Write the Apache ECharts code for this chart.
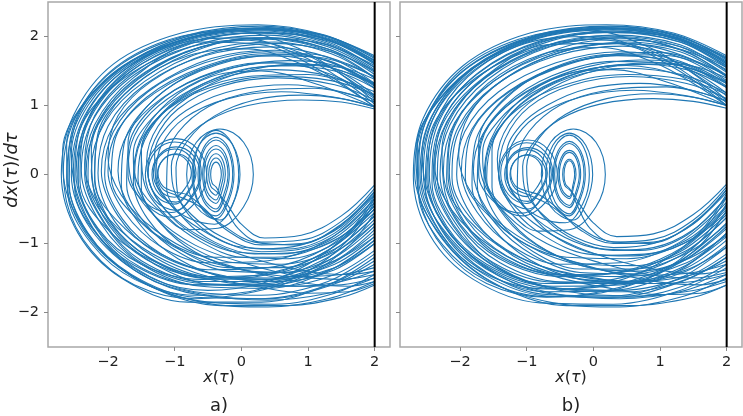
<!DOCTYPE html>
<html>
<head>
<meta charset="utf-8">
<script src="https://cdn.jsdelivr.net/npm/echarts@6/dist/echarts.min.js"></script>
<style>
  html, body { margin: 0; padding: 0; background: #fff; }
  #main { width: 743px; height: 416px; }
</style>
</head>
<body>
<div id="main"></div>
<script>
// tick positions shared by both panels
const xTicks = [-2, -1, 0, 1, 2];
const yTicks = [-2, -1, 0, 1, 2];
// the wall at x = 2
const wall = [[2, -2.5], [2, 2.5]];

// panel a) - large loops, each one leaves the wall at the bottom and comes back at the top
const loopsA = [
  [[2,-1.55],[1.3,-1.8],[0.4,-1.92],[-0.6,-1.85],[-1.6,-1.5],[-2.35,-0.8],[-2.67,0.05],[-2.45,0.9],[-1.8,1.6],[-0.8,2.02],[0.3,2.15],[1.3,2.0],[2,1.7]],
  [[2,-1.3],[1.3,-1.62],[0.4,-1.8],[-0.6,-1.75],[-1.5,-1.45],[-2.25,-0.8],[-2.55,0.0],[-2.35,0.85],[-1.7,1.55],[-0.7,1.98],[0.4,2.1],[1.35,1.95],[2,1.62]],
  [[2,-0.95],[1.3,-1.4],[0.4,-1.65],[-0.6,-1.62],[-1.5,-1.3],[-2.1,-0.72],[-2.4,0.05],[-2.22,0.8],[-1.6,1.45],[-0.6,1.9],[0.4,2.02],[1.3,1.85],[2,1.5]],
  [[2,-0.7],[1.3,-1.25],[0.4,-1.52],[-0.6,-1.5],[-1.4,-1.2],[-2.0,-0.65],[-2.25,0.05],[-2.05,0.75],[-1.45,1.35],[-0.5,1.8],[0.5,1.92],[1.35,1.75],[2,1.4]],
  [[2,-0.45],[1.3,-1.05],[0.4,-1.35],[-0.5,-1.38],[-1.3,-1.12],[-1.85,-0.6],[-2.1,0.05],[-1.92,0.7],[-1.35,1.25],[-0.45,1.68],[0.5,1.8],[1.35,1.62],[2,1.25]],
  [[2,-1.45],[1.4,-1.72],[0.5,-1.88],[-0.5,-1.85],[-1.5,-1.55],[-2.3,-0.9],[-2.62,-0.05],[-2.45,0.8],[-1.85,1.5],[-0.9,1.95],[0.2,2.12],[1.2,2.02],[2,1.72]],
  [[2,-1.15],[1.3,-1.55],[0.3,-1.75],[-0.7,-1.7],[-1.6,-1.35],[-2.2,-0.75],[-2.48,0.0],[-2.3,0.8],[-1.7,1.5],[-0.75,1.95],[0.35,2.08],[1.3,1.9],[2,1.55]],
  [[2,-0.8],[1.4,-1.25],[0.4,-1.55],[-0.6,-1.55],[-1.5,-1.25],[-2.05,-0.7],[-2.33,0.0],[-2.15,0.72],[-1.55,1.38],[-0.6,1.85],[0.45,1.98],[1.35,1.8],[2,1.45]],
  [[2,-0.35],[1.3,-0.95],[0.4,-1.25],[-0.5,-1.28],[-1.2,-1.05],[-1.75,-0.55],[-2.0,0.05],[-1.85,0.65],[-1.3,1.18],[-0.45,1.58],[0.5,1.72],[1.35,1.55],[2,1.15]],
  [[2,-1.6],[1.5,-1.78],[0.7,-1.9],[-0.3,-1.9],[-1.3,-1.65],[-2.15,-1.05],[-2.58,-0.15],[-2.5,0.7],[-1.95,1.45],[-1.0,1.92],[0.1,2.1],[1.1,2.05],[2,1.65]],
  [[2,-1.5],[1.5,-1.6],[0.8,-1.62],[-0.1,-1.5],[-1.0,-1.25],[-1.75,-0.78],[-2.2,-0.1],[-2.15,0.6],[-1.65,1.25],[-0.8,1.75],[0.2,1.98],[1.2,1.9],[2,1.58]],
  [[2,-1.4],[1.5,-1.55],[0.8,-1.62],[-0.1,-1.58],[-1.1,-1.35],[-1.95,-0.85],[-2.42,-0.1],[-2.35,0.65],[-1.85,1.35],[-0.95,1.85],[0.1,2.05],[1.1,2.0],[2,1.6]],
  [[2,-0.5],[1.4,-0.95],[0.5,-1.2],[-0.4,-1.2],[-1.15,-0.95],[-1.65,-0.5],[-1.85,0.05],[-1.7,0.6],[-1.2,1.1],[-0.4,1.48],[0.5,1.62],[1.35,1.45],[2,1.1]],
  [[2,-1.1],[1.4,-1.45],[0.6,-1.62],[-0.4,-1.6],[-1.3,-1.3],[-1.95,-0.75],[-2.3,-0.05],[-2.18,0.7],[-1.62,1.35],[-0.7,1.82],[0.35,1.98],[1.3,1.82],[2,1.48]],
  [[2,-0.65],[1.3,-1.2],[0.3,-1.55],[-0.7,-1.6],[-1.6,-1.32],[-2.25,-0.75],[-2.52,0.02],[-2.35,0.82],[-1.75,1.52],[-0.8,1.98],[0.3,2.12],[1.3,1.95],[2,1.62]],
  [[2,-1.35],[1.5,-1.45],[0.8,-1.48],[0.0,-1.38],[-0.8,-1.15],[-1.5,-0.7],[-1.95,-0.05],[-1.88,0.55],[-1.42,1.12],[-0.6,1.55],[0.35,1.75],[1.3,1.65],[2,1.3]],
  [[2,-1.2],[1.3,-1.6],[0.3,-1.85],[-0.8,-1.85],[-1.8,-1.5],[-2.45,-0.85],[-2.7,0.0],[-2.52,0.85],[-1.92,1.6],[-0.9,2.05],[0.25,2.17],[1.25,2.02],[2,1.68]],
  [[2,-0.9],[1.4,-1.3],[0.5,-1.5],[-0.5,-1.48],[-1.3,-1.2],[-1.9,-0.68],[-2.15,0.02],[-2.0,0.7],[-1.45,1.3],[-0.55,1.72],[0.45,1.85],[1.35,1.68],[2,1.32]],
  [[2,-0.55],[1.3,-1.1],[0.4,-1.45],[-0.6,-1.52],[-1.5,-1.3],[-2.15,-0.78],[-2.45,-0.05],[-2.3,0.75],[-1.72,1.45],[-0.78,1.92],[0.3,2.05],[1.3,1.88],[2,1.52]],
  [[2,-1.0],[1.4,-1.35],[0.5,-1.52],[-0.4,-1.45],[-1.2,-1.15],[-1.78,-0.65],[-2.05,0.0],[-1.92,0.62],[-1.4,1.2],[-0.55,1.62],[0.4,1.78],[1.3,1.65],[2,1.28]],
  [[2,-0.95],[1.4,-1.35],[0.4,-1.6],[-0.6,-1.58],[-1.5,-1.28],[-2.05,-0.72],[-2.35,0.0],[-2.2,0.72],[-1.62,1.4],[-0.6,1.92],[0.3,1.88],[1.2,1.5],[2,0.98]],
  [[2,-1.5],[1.3,-1.72],[0.4,-1.82],[-0.5,-1.75],[-1.4,-1.5],[-2.1,-0.95],[-2.5,-0.2],[-2.45,0.55],[-1.95,1.25],[-1.0,1.78],[0.0,1.95],[1.0,1.72],[2,1.12]],
  // loops whose top peaks further left and come back low
  [[2,-0.85],[1.3,-1.32],[0.4,-1.58],[-0.6,-1.6],[-1.5,-1.35],[-2.15,-0.8],[-2.45,-0.05],[-2.35,0.7],[-1.85,1.4],[-1.0,1.88],[0.0,1.98],[0.9,1.72],[1.5,1.38],[2,1.02]],
  [[2,-1.25],[1.3,-1.6],[0.3,-1.8],[-0.7,-1.78],[-1.65,-1.45],[-2.3,-0.85],[-2.6,-0.05],[-2.5,0.75],[-1.98,1.48],[-1.1,1.95],[-0.1,2.08],[0.8,1.85],[1.5,1.45],[2,1.05]],
  [[2,-0.6],[1.3,-1.15],[0.4,-1.45],[-0.5,-1.48],[-1.35,-1.22],[-1.95,-0.7],[-2.2,0.0],[-2.1,0.68],[-1.6,1.3],[-0.8,1.72],[0.1,1.82],[0.9,1.6],[1.5,1.3],[2,0.98]],
  // fast departures that slow down going left
  [[2,-1.55],[1.6,-1.62],[1.0,-1.58],[0.2,-1.42],[-0.6,-1.18],[-1.3,-0.8],[-1.8,-0.3],[-2.0,0.25],[-1.85,0.85],[-1.35,1.35],[-0.5,1.75],[0.5,1.9],[1.35,1.78],[2,1.5]],
  [[2,-1.45],[1.5,-1.52],[0.9,-1.48],[0.1,-1.3],[-0.7,-1.02],[-1.3,-0.6],[-1.65,-0.1],[-1.7,0.45],[-1.4,1.0],[-0.8,1.42],[0.1,1.7],[1.0,1.75],[1.6,1.6],[2,1.4]],
  [[2,-1.58],[1.6,-1.7],[1.0,-1.72],[0.2,-1.62],[-0.7,-1.42],[-1.5,-1.05],[-2.1,-0.5],[-2.35,0.15],[-2.2,0.85],[-1.65,1.45],[-0.75,1.9],[0.3,2.06],[1.25,1.95],[2,1.66]],
  [[2,-1.4],[1.6,-1.45],[1.1,-1.42],[0.4,-1.28],[-0.3,-1.05],[-0.9,-0.72],[-1.3,-0.3],[-1.42,0.2],[-1.25,0.7],[-0.8,1.12],[-0.1,1.45],[0.8,1.6],[1.5,1.55],[2,1.38]],
  // slow departures that speed up going left
  [[2,-0.3],[1.6,-0.85],[1.0,-1.3],[0.3,-1.58],[-0.5,-1.68],[-1.3,-1.52],[-2.0,-1.05],[-2.42,-0.4],[-2.55,0.3],[-2.3,1.0],[-1.7,1.58],[-0.75,1.98],[0.3,2.1],[1.3,1.92],[2,1.55]],
  [[2,-0.4],[1.6,-0.95],[1.0,-1.4],[0.2,-1.68],[-0.7,-1.75],[-1.6,-1.52],[-2.25,-1.0],[-2.6,-0.3],[-2.62,0.45],[-2.25,1.15],[-1.55,1.7],[-0.6,2.05],[0.45,2.12],[1.4,1.92],[2,1.6]],
  [[2,-0.55],[1.6,-1.05],[1.0,-1.45],[0.2,-1.7],[-0.7,-1.8],[-1.6,-1.6],[-2.25,-1.1],[-2.62,-0.4],[-2.68,0.35],[-2.35,1.05],[-1.65,1.65],[-0.7,2.03],[0.4,2.13],[1.35,1.96],[2,1.64]],
  [[2,-0.35],[1.6,-0.88],[1.0,-1.25],[0.3,-1.45],[-0.5,-1.5],[-1.25,-1.32],[-1.85,-0.9],[-2.2,-0.3],[-2.25,0.35],[-2.0,0.98],[-1.45,1.48],[-0.6,1.85],[0.4,1.96],[1.35,1.78],[2,1.4]],
  // medium loops through the centre-left
  [[2,-0.75],[1.4,-1.2],[0.6,-1.42],[-0.2,-1.4],[-0.9,-1.15],[-1.45,-0.7],[-1.72,-0.15],[-1.68,0.45],[-1.3,1.0],[-0.6,1.42],[0.3,1.62],[1.2,1.58],[2,1.3]],
  [[2,-1.0],[1.4,-1.38],[0.6,-1.55],[-0.2,-1.5],[-0.95,-1.22],[-1.5,-0.75],[-1.8,-0.15],[-1.75,0.48],[-1.35,1.05],[-0.65,1.5],[0.25,1.72],[1.15,1.7],[2,1.42]],
  [[2,-0.9],[1.4,-1.25],[0.7,-1.42],[0.0,-1.38],[-0.7,-1.12],[-1.2,-0.72],[-1.5,-0.2],[-1.5,0.35],[-1.2,0.88],[-0.6,1.3],[0.2,1.55],[1.1,1.58],[2,1.32]],
  [[2,-0.7],[1.4,-1.12],[0.6,-1.35],[-0.2,-1.35],[-0.9,-1.1],[-1.4,-0.65],[-1.62,-0.1],[-1.52,0.5],[-1.1,1.05],[-0.45,1.42],[0.3,1.5],[1.1,1.32],[2,0.98]],
  // loops around the small hole near x = -1
  [[2,-0.3],[1.4,-0.85],[0.7,-1.08],[0.0,-1.05],[-0.6,-0.8],[-1.05,-0.45],[-1.28,0.0],[-1.2,0.42],[-0.85,0.82],[-0.2,1.1],[0.6,1.2],[1.4,1.12],[2,0.98]],
  [[2,-0.4],[1.4,-0.92],[0.6,-1.15],[-0.1,-1.12],[-0.7,-0.88],[-1.15,-0.5],[-1.4,0.02],[-1.3,0.5],[-0.95,0.95],[-0.3,1.28],[0.55,1.4],[1.4,1.3],[2,1.08]],
  [[2,-0.6],[1.4,-1.08],[0.6,-1.3],[-0.1,-1.28],[-0.8,-1.02],[-1.3,-0.6],[-1.55,-0.05],[-1.45,0.5],[-1.05,1.0],[-0.35,1.38],[0.5,1.52],[1.35,1.42],[2,1.15]],
  [[2,-0.25],[1.5,-0.75],[0.9,-1.02],[0.3,-1.08],[-0.3,-0.9],[-0.75,-0.58],[-1.0,-0.25],[-1.05,0.12],[-0.9,0.45],[-0.5,0.78],[0.1,1.0],[0.9,1.08],[1.5,1.05],[2,0.95]],
  [[2,-0.5],[1.4,-1.0],[0.7,-1.22],[0.0,-1.2],[-0.6,-0.98],[-1.1,-0.62],[-1.45,-0.15],[-1.5,0.35],[-1.25,0.82],[-0.7,1.2],[0.1,1.42],[1.0,1.45],[2,1.2]],
  [[2,-0.35],[1.5,-0.82],[0.9,-1.08],[0.3,-1.12],[-0.25,-0.98],[-0.7,-0.68],[-0.95,-0.3],[-0.98,0.1],[-0.8,0.5],[-0.4,0.85],[0.2,1.08],[0.9,1.15],[1.5,1.1],[2,0.98]],
  [[2,-0.45],[1.5,-0.9],[0.9,-1.12],[0.2,-1.15],[-0.4,-0.98],[-0.85,-0.65],[-1.12,-0.2],[-1.1,0.3],[-0.85,0.72],[-0.35,1.05],[0.35,1.22],[1.1,1.25],[2,1.05]]
];

// panel a) - trajectories that spiral near x = -0.4 and x = -1 before escaping
const spiralsA = [
  [[2,-0.2],[1.5,-0.68],[0.9,-0.95],[0.3,-0.98],[-0.05,-0.78],[-0.25,-0.45],[-0.34,-0.25],
   [-0.38,-0.18],[-0.437,-0.127],[-0.46,0],[-0.437,0.127],[-0.38,0.18],[-0.323,0.127],[-0.3,0],[-0.323,-0.127],
   [-0.38,-0.3],[-0.48,-0.21],[-0.52,0],[-0.48,0.21],[-0.38,0.3],[-0.28,0.21],[-0.24,0],[-0.28,-0.21],
   [-0.38,-0.42],[-0.52,-0.3],[-0.58,0],[-0.52,0.3],[-0.38,0.42],[-0.24,0.3],[-0.18,0],[-0.24,-0.3],
   [-0.38,-0.54],[-0.57,-0.38],[-0.65,0],[-0.57,0.38],[-0.38,0.54],[-0.19,0.38],[-0.11,0],[-0.19,-0.38],
   [-0.38,-0.64],[-0.62,-0.45],[-0.72,0],[-0.62,0.45],[-0.38,0.64],[-0.14,0.45],[-0.04,0],[-0.14,-0.45],
   [-0.4,-0.72],[-0.75,-0.65],[-1.05,-0.45],[-1.28,-0.1],[-1.3,0.3],[-1.1,0.7],[-0.7,1.0],[-0.1,1.22],[0.7,1.3],[1.4,1.22],[2,1.05]],
  [[2,-0.28],[1.4,-0.8],[0.8,-1.02],[0.2,-0.98],[-0.3,-0.72],[-0.65,-0.45],
   [-0.98,-0.3],[-1.18,-0.21],[-1.26,0],[-1.18,0.21],[-0.98,0.3],[-0.78,0.21],[-0.7,0],[-0.78,-0.21],
   [-0.98,-0.4],[-1.235,-0.28],[-1.34,0],[-1.235,0.28],[-0.98,0.4],[-0.725,0.28],[-0.62,0],[-0.725,-0.28],
   [-0.98,-0.52],[-1.3,-0.37],[-1.44,0],[-1.3,0.37],[-0.98,0.52],[-0.66,0.37],[-0.52,0],[-0.66,-0.37],
   [-1.05,-0.62],[-1.4,-0.45],[-1.6,-0.05],[-1.5,0.5],[-1.1,0.95],[-0.4,1.28],[0.5,1.42],[1.35,1.36],[2,1.15]],
  [[2,-0.15],[1.5,-0.6],[0.9,-0.88],[0.35,-0.92],[0.0,-0.72],[-0.2,-0.45],[-0.32,-0.3],
   [-0.38,-0.24],[-0.458,-0.17],[-0.49,0],[-0.458,0.17],[-0.38,0.24],[-0.302,0.17],[-0.27,0],[-0.302,-0.17],
   [-0.38,-0.37],[-0.507,-0.26],[-0.56,0],[-0.507,0.26],[-0.38,0.37],[-0.253,0.26],[-0.2,0],[-0.253,-0.26],
   [-0.38,-0.5],[-0.557,-0.354],[-0.63,0],[-0.557,0.354],[-0.38,0.5],[-0.203,0.354],[-0.13,0],[-0.203,-0.354],
   [-0.38,-0.6],[-0.635,-0.424],[-0.74,0],[-0.635,0.424],[-0.38,0.6],[-0.125,0.424],[-0.02,0],[-0.125,-0.424],
   [-0.32,-0.66],[-0.674,-0.467],[-0.82,0],[-0.674,0.467],[-0.32,0.66],[0.034,0.467],[0.18,0],[0.034,-0.467],
   [-0.35,-0.78],[-0.8,-0.8],[-1.2,-0.55],[-1.55,-0.15],[-1.62,0.3],[-1.4,0.75],[-0.9,1.15],[-0.2,1.45],[0.6,1.58],[1.4,1.5],[2,1.25]],
  [[2,-0.24],[1.5,-0.72],[0.9,-1.0],[0.3,-1.02],[-0.2,-0.82],[-0.55,-0.5],[-0.8,-0.3],
   [-1.0,-0.25],[-1.177,-0.17],[-1.25,0.02],[-1.177,0.21],[-1.0,0.29],[-0.823,0.21],[-0.75,0.02],[-0.823,-0.17],
   [-1.0,-0.33],[-1.226,-0.227],[-1.32,0.02],[-1.226,0.267],[-1.0,0.37],[-0.774,0.267],[-0.68,0.02],[-0.774,-0.227],
   [-1.0,-0.43],[-1.283,-0.3],[-1.4,0.02],[-1.283,0.34],[-1.0,0.47],[-0.717,0.34],[-0.6,0.02],[-0.717,-0.3],
   [-1.05,-0.55],[-1.45,-0.4],[-1.7,0.0],[-1.65,0.45],[-1.35,0.9],[-0.8,1.28],[-0.1,1.55],[0.7,1.65],[1.4,1.58],[2,1.32]]
];

// panel b)
const loopsB = [
  [[2,-1.5],[1.3,-1.78],[0.4,-1.92],[-0.6,-1.86],[-1.6,-1.52],[-2.35,-0.82],[-2.68,0.02],[-2.48,0.88],[-1.85,1.58],[-0.85,2.02],[0.25,2.15],[1.25,2.02],[2,1.68]],
  [[2,-1.05],[1.3,-1.5],[0.3,-1.76],[-0.7,-1.74],[-1.6,-1.42],[-2.28,-0.78],[-2.58,0.0],[-2.4,0.82],[-1.78,1.52],[-0.8,1.98],[0.3,2.1],[1.3,1.95],[2,1.6]],
  [[2,-1.3],[1.4,-1.6],[0.5,-1.78],[-0.5,-1.75],[-1.45,-1.45],[-2.15,-0.85],[-2.5,-0.05],[-2.35,0.75],[-1.75,1.45],[-0.8,1.92],[0.3,2.06],[1.3,1.92],[2,1.55]],
  [[2,-0.75],[1.3,-1.28],[0.4,-1.56],[-0.6,-1.56],[-1.5,-1.28],[-2.1,-0.72],[-2.38,0.02],[-2.2,0.76],[-1.6,1.42],[-0.65,1.88],[0.4,2.0],[1.3,1.85],[2,1.48]],
  [[2,-0.5],[1.3,-1.1],[0.4,-1.42],[-0.5,-1.45],[-1.4,-1.2],[-1.98,-0.65],[-2.25,0.05],[-2.08,0.75],[-1.5,1.35],[-0.55,1.78],[0.45,1.9],[1.35,1.72],[2,1.36]],
  [[2,-1.6],[1.5,-1.78],[0.6,-1.9],[-0.4,-1.9],[-1.4,-1.62],[-2.2,-1.0],[-2.64,-0.1],[-2.52,0.75],[-1.95,1.5],[-0.95,1.98],[0.15,2.13],[1.15,2.04],[2,1.7]],
  [[2,-1.25],[1.5,-1.45],[0.7,-1.55],[-0.2,-1.48],[-1.1,-1.2],[-1.78,-0.7],[-2.12,-0.05],[-2.02,0.62],[-1.52,1.25],[-0.65,1.72],[0.35,1.9],[1.3,1.78],[2,1.42]],
  [[2,-0.95],[1.4,-1.35],[0.5,-1.58],[-0.5,-1.56],[-1.4,-1.28],[-2.02,-0.72],[-2.3,0.0],[-2.15,0.72],[-1.58,1.38],[-0.65,1.85],[0.4,1.98],[1.32,1.8],[2,1.44]],
  [[2,-0.4],[1.3,-0.98],[0.4,-1.28],[-0.5,-1.3],[-1.2,-1.05],[-1.74,-0.55],[-1.98,0.05],[-1.82,0.66],[-1.28,1.2],[-0.42,1.6],[0.5,1.73],[1.35,1.56],[2,1.18]],
  [[2,-1.35],[1.3,-1.68],[0.3,-1.88],[-0.8,-1.86],[-1.8,-1.52],[-2.45,-0.88],[-2.7,-0.02],[-2.55,0.82],[-1.95,1.58],[-0.95,2.05],[0.2,2.17],[1.2,2.05],[2,1.72]],
  [[2,-1.55],[1.5,-1.68],[0.7,-1.76],[-0.2,-1.72],[-1.2,-1.48],[-2.0,-0.92],[-2.42,-0.12],[-2.32,0.65],[-1.8,1.35],[-0.9,1.85],[0.15,2.06],[1.15,2.0],[2,1.62]],
  [[2,-1.45],[1.5,-1.55],[0.8,-1.58],[-0.1,-1.48],[-1.0,-1.25],[-1.75,-0.78],[-2.2,-0.1],[-2.14,0.58],[-1.66,1.22],[-0.8,1.72],[0.2,1.95],[1.2,1.88],[2,1.55]],
  [[2,-0.55],[1.4,-0.98],[0.5,-1.22],[-0.4,-1.2],[-1.12,-0.95],[-1.6,-0.5],[-1.8,0.05],[-1.66,0.58],[-1.18,1.08],[-0.4,1.45],[0.5,1.58],[1.35,1.42],[2,1.08]],
  [[2,-0.62],[1.3,-1.18],[0.3,-1.52],[-0.7,-1.58],[-1.6,-1.3],[-2.2,-0.75],[-2.46,0.0],[-2.3,0.8],[-1.72,1.48],[-0.78,1.94],[0.3,2.08],[1.3,1.92],[2,1.58]],
  [[2,-1.3],[1.5,-1.42],[0.8,-1.46],[0.0,-1.36],[-0.8,-1.12],[-1.48,-0.68],[-1.92,-0.05],[-1.85,0.55],[-1.4,1.1],[-0.6,1.52],[0.35,1.72],[1.3,1.62],[2,1.26]],
  [[2,-0.85],[1.3,-1.38],[0.3,-1.68],[-0.7,-1.7],[-1.65,-1.4],[-2.28,-0.8],[-2.55,0.02],[-2.38,0.86],[-1.78,1.55],[-0.82,2.0],[0.28,2.12],[1.28,1.98],[2,1.64]],
  [[2,-1.05],[1.4,-1.38],[0.5,-1.55],[-0.4,-1.48],[-1.2,-1.18],[-1.78,-0.66],[-2.05,0.0],[-1.93,0.62],[-1.42,1.2],[-0.56,1.62],[0.4,1.78],[1.3,1.64],[2,1.28]],
  [[2,-1.2],[1.4,-1.52],[0.5,-1.7],[-0.5,-1.66],[-1.4,-1.36],[-2.0,-0.8],[-2.34,-0.05],[-2.22,0.7],[-1.66,1.38],[-0.74,1.86],[0.32,2.02],[1.3,1.88],[2,1.5]],
  [[2,-0.7],[1.3,-1.25],[0.3,-1.6],[-0.7,-1.66],[-1.7,-1.4],[-2.32,-0.8],[-2.6,0.0],[-2.42,0.84],[-1.82,1.54],[-0.85,2.0],[0.25,2.12],[1.25,1.98],[2,1.6]],
  [[2,-0.85],[1.4,-1.28],[0.5,-1.48],[-0.5,-1.45],[-1.3,-1.18],[-1.9,-0.66],[-2.16,0.02],[-2.02,0.7],[-1.46,1.3],[-0.56,1.72],[0.44,1.86],[1.35,1.68],[2,1.34]],
  [[2,-1.15],[1.4,-1.48],[0.4,-1.68],[-0.6,-1.64],[-1.5,-1.32],[-2.1,-0.75],[-2.4,0.0],[-2.25,0.75],[-1.65,1.4],[-0.7,1.88],[0.3,1.9],[1.2,1.55],[2,1.0]],
  [[2,-1.45],[1.3,-1.7],[0.4,-1.8],[-0.5,-1.74],[-1.4,-1.48],[-2.12,-0.95],[-2.52,-0.2],[-2.46,0.55],[-1.96,1.25],[-1.02,1.78],[0.0,1.96],[1.0,1.74],[2,1.14]],
  [[2,-0.9],[1.3,-1.36],[0.4,-1.6],[-0.6,-1.62],[-1.5,-1.38],[-2.18,-0.82],[-2.48,-0.05],[-2.38,0.72],[-1.88,1.42],[-1.02,1.9],[-0.02,2.0],[0.9,1.75],[1.5,1.4],[2,1.04]],
  [[2,-1.2],[1.3,-1.56],[0.3,-1.78],[-0.7,-1.76],[-1.65,-1.44],[-2.3,-0.84],[-2.62,-0.05],[-2.52,0.76],[-2.0,1.5],[-1.12,1.96],[-0.12,2.1],[0.8,1.86],[1.5,1.46],[2,1.08]],
  [[2,-0.58],[1.3,-1.12],[0.4,-1.42],[-0.5,-1.46],[-1.35,-1.2],[-1.94,-0.68],[-2.18,0.02],[-2.08,0.7],[-1.58,1.32],[-0.78,1.74],[0.12,1.84],[0.92,1.62],[1.5,1.32],[2,1.0]],
  [[2,-1.52],[1.6,-1.6],[1.0,-1.56],[0.2,-1.4],[-0.6,-1.16],[-1.3,-0.78],[-1.82,-0.28],[-2.02,0.27],[-1.86,0.87],[-1.36,1.37],[-0.5,1.77],[0.5,1.92],[1.35,1.8],[2,1.52]],
  [[2,-1.42],[1.5,-1.5],[0.9,-1.46],[0.1,-1.28],[-0.7,-1.0],[-1.3,-0.58],[-1.66,-0.08],[-1.72,0.47],[-1.42,1.02],[-0.82,1.44],[0.1,1.72],[1.0,1.77],[1.6,1.62],[2,1.42]],
  [[2,-1.6],[1.6,-1.72],[1.0,-1.74],[0.2,-1.64],[-0.7,-1.44],[-1.5,-1.07],[-2.12,-0.52],[-2.38,0.14],[-2.22,0.86],[-1.66,1.46],[-0.76,1.92],[0.3,2.08],[1.25,1.97],[2,1.68]],
  [[2,-1.38],[1.6,-1.44],[1.1,-1.4],[0.4,-1.26],[-0.3,-1.03],[-0.9,-0.7],[-1.32,-0.28],[-1.44,0.22],[-1.27,0.72],[-0.82,1.14],[-0.1,1.47],[0.8,1.62],[1.5,1.57],[2,1.4]],
  [[2,-0.28],[1.6,-0.83],[1.0,-1.28],[0.3,-1.56],[-0.5,-1.66],[-1.3,-1.5],[-2.0,-1.03],[-2.44,-0.38],[-2.57,0.32],[-2.32,1.02],[-1.72,1.6],[-0.76,2.0],[0.3,2.11],[1.3,1.94],[2,1.57]],
  [[2,-0.42],[1.6,-0.97],[1.0,-1.42],[0.2,-1.7],[-0.7,-1.77],[-1.6,-1.54],[-2.26,-1.02],[-2.62,-0.32],[-2.64,0.43],[-2.27,1.13],[-1.57,1.68],[-0.62,2.04],[0.44,2.12],[1.4,1.93],[2,1.62]],
  [[2,-0.52],[1.6,-1.03],[1.0,-1.43],[0.2,-1.68],[-0.7,-1.78],[-1.6,-1.58],[-2.24,-1.08],[-2.6,-0.38],[-2.66,0.37],[-2.33,1.07],[-1.63,1.67],[-0.68,2.05],[0.42,2.14],[1.36,1.97],[2,1.66]],
  [[2,-0.33],[1.6,-0.86],[1.0,-1.23],[0.3,-1.43],[-0.5,-1.48],[-1.25,-1.3],[-1.86,-0.88],[-2.22,-0.28],[-2.27,0.37],[-2.02,1.0],[-1.47,1.5],[-0.62,1.87],[0.4,1.98],[1.35,1.8],[2,1.42]],
  [[2,-0.78],[1.4,-1.22],[0.6,-1.44],[-0.2,-1.42],[-0.9,-1.17],[-1.46,-0.72],[-1.74,-0.16],[-1.7,0.44],[-1.32,1.0],[-0.62,1.43],[0.3,1.64],[1.2,1.6],[2,1.32]],
  [[2,-1.02],[1.4,-1.4],[0.6,-1.57],[-0.2,-1.52],[-0.95,-1.24],[-1.52,-0.76],[-1.82,-0.16],[-1.77,0.47],[-1.37,1.05],[-0.67,1.52],[0.25,1.74],[1.15,1.72],[2,1.44]],
  [[2,-0.88],[1.4,-1.23],[0.7,-1.4],[0.0,-1.36],[-0.7,-1.1],[-1.22,-0.7],[-1.52,-0.18],[-1.52,0.36],[-1.22,0.9],[-0.62,1.32],[0.2,1.57],[1.1,1.6],[2,1.34]],
  [[2,-0.72],[1.4,-1.14],[0.6,-1.37],[-0.2,-1.37],[-0.9,-1.12],[-1.42,-0.66],[-1.64,-0.1],[-1.54,0.5],[-1.12,1.06],[-0.46,1.44],[0.3,1.52],[1.1,1.34],[2,1.0]],
  [[2,-0.32],[1.4,-0.88],[0.7,-1.1],[0.0,-1.06],[-0.6,-0.82],[-1.05,-0.46],[-1.3,0.0],[-1.22,0.44],[-0.86,0.84],[-0.2,1.12],[0.6,1.22],[1.4,1.14],[2,1.0]],
  [[2,-0.45],[1.4,-0.95],[0.6,-1.18],[-0.1,-1.15],[-0.72,-0.9],[-1.18,-0.52],[-1.42,0.0],[-1.32,0.52],[-0.96,0.98],[-0.3,1.3],[0.55,1.42],[1.4,1.32],[2,1.1]],
  [[2,-0.62],[1.4,-1.1],[0.6,-1.32],[-0.1,-1.3],[-0.82,-1.04],[-1.32,-0.62],[-1.6,-0.05],[-1.5,0.5],[-1.08,1.02],[-0.38,1.4],[0.5,1.54],[1.35,1.44],[2,1.18]],
  [[2,-0.22],[1.5,-0.72],[0.9,-1.0],[0.3,-1.06],[-0.3,-0.9],[-0.76,-0.58],[-1.02,-0.24],[-1.06,0.12],[-0.9,0.46],[-0.5,0.8],[0.1,1.02],[0.9,1.1],[1.5,1.06],[2,0.96]],
  [[2,-0.33],[1.5,-0.8],[0.9,-1.06],[0.3,-1.1],[-0.25,-0.96],[-0.7,-0.66],[-0.96,-0.28],[-1.0,0.12],[-0.82,0.52],[-0.42,0.87],[0.2,1.1],[0.9,1.17],[1.5,1.12],[2,1.0]],
  [[2,-0.47],[1.5,-0.92],[0.9,-1.14],[0.2,-1.17],[-0.4,-1.0],[-0.86,-0.66],[-1.14,-0.2],[-1.12,0.3],[-0.86,0.74],[-0.36,1.07],[0.35,1.24],[1.1,1.27],[2,1.07]]
];

const spiralsB = [
  [[2,-0.18],[1.5,-0.66],[0.9,-0.94],[0.3,-0.98],[-0.05,-0.78],[-0.24,-0.45],[-0.32,-0.26],
   [-0.36,-0.2],[-0.417,-0.14],[-0.44,0],[-0.417,0.14],[-0.36,0.2],[-0.303,0.14],[-0.28,0],[-0.303,-0.14],
   [-0.36,-0.32],[-0.466,-0.226],[-0.51,0],[-0.466,0.226],[-0.36,0.32],[-0.254,0.226],[-0.21,0],[-0.254,-0.226],
   [-0.36,-0.45],[-0.516,-0.318],[-0.58,0],[-0.516,0.318],[-0.36,0.45],[-0.204,0.318],[-0.14,0],[-0.204,-0.318],
   [-0.36,-0.57],[-0.572,-0.403],[-0.66,0],[-0.572,0.403],[-0.36,0.57],[-0.148,0.403],[-0.06,0],[-0.148,-0.403],
   [-0.42,-0.7],[-0.76,-0.64],[-1.06,-0.44],[-1.28,-0.1],[-1.3,0.3],[-1.1,0.7],[-0.7,1.0],[-0.1,1.24],[0.7,1.32],[1.4,1.24],[2,1.06]],
  [[2,-0.26],[1.4,-0.78],[0.8,-1.0],[0.2,-0.96],[-0.3,-0.7],[-0.66,-0.44],
   [-0.98,-0.29],[-1.17,-0.205],[-1.25,0],[-1.17,0.205],[-0.98,0.29],[-0.79,0.205],[-0.71,0],[-0.79,-0.205],
   [-0.98,-0.39],[-1.227,-0.276],[-1.33,0],[-1.227,0.276],[-0.98,0.39],[-0.733,0.276],[-0.63,0],[-0.733,-0.276],
   [-0.98,-0.5],[-1.29,-0.354],[-1.42,0],[-1.29,0.354],[-0.98,0.5],[-0.67,0.354],[-0.54,0],[-0.67,-0.354],
   [-1.06,-0.6],[-1.42,-0.44],[-1.62,-0.04],[-1.52,0.5],[-1.12,0.96],[-0.42,1.3],[0.5,1.45],[1.35,1.38],[2,1.16]],
  [[2,-0.14],[1.5,-0.58],[0.9,-0.86],[0.35,-0.9],[0.0,-0.7],[-0.2,-0.44],[-0.3,-0.28],
   [-0.36,-0.22],[-0.43,-0.156],[-0.46,0],[-0.43,0.156],[-0.36,0.22],[-0.29,0.156],[-0.26,0],[-0.29,-0.156],
   [-0.36,-0.35],[-0.48,-0.247],[-0.53,0],[-0.48,0.247],[-0.36,0.35],[-0.24,0.247],[-0.19,0],[-0.24,-0.247],
   [-0.36,-0.48],[-0.53,-0.34],[-0.6,0],[-0.53,0.34],[-0.36,0.48],[-0.19,0.34],[-0.12,0],[-0.19,-0.34],
   [-0.36,-0.6],[-0.607,-0.424],[-0.71,0],[-0.607,0.424],[-0.36,0.6],[-0.113,0.424],[-0.01,0],[-0.113,-0.424],
   [-0.3,-0.66],[-0.64,-0.467],[-0.78,0],[-0.64,0.467],[-0.3,0.66],[0.04,0.467],[0.18,0],[0.04,-0.467],
   [-0.36,-0.8],[-0.82,-0.82],[-1.24,-0.56],[-1.6,-0.14],[-1.66,0.32],[-1.42,0.78],[-0.92,1.18],[-0.2,1.48],[0.6,1.6],[1.4,1.52],[2,1.26]],
  [[2,-0.22],[1.5,-0.7],[0.9,-0.98],[0.3,-1.0],[-0.2,-0.8],[-0.55,-0.48],[-0.8,-0.3],
   [-1.0,-0.24],[-1.17,-0.164],[-1.24,0.02],[-1.17,0.204],[-1.0,0.28],[-0.83,0.204],[-0.76,0.02],[-0.83,-0.164],
   [-1.0,-0.32],[-1.22,-0.22],[-1.31,0.02],[-1.22,0.26],[-1.0,0.36],[-0.78,0.26],[-0.69,0.02],[-0.78,-0.22],
   [-1.0,-0.42],[-1.276,-0.29],[-1.39,0.02],[-1.276,0.33],[-1.0,0.46],[-0.724,0.33],[-0.61,0.02],[-0.724,-0.29],
   [-1.06,-0.56],[-1.46,-0.42],[-1.72,0.0],[-1.68,0.46],[-1.38,0.92],[-0.82,1.3],[-0.1,1.56],[0.7,1.66],[1.4,1.6],[2,1.32]]
];

const blue = '#1f77b4';
const minus = v => String(v).replace('-', '\u2212');

function trajectory(list, idx, smooth) {
  return list.map(pts => ({
    type: 'line',
    xAxisIndex: idx,
    yAxisIndex: idx,
    data: pts,
    smooth: smooth,
    showSymbol: false,
    silent: true,
    lineStyle: { color: blue, width: 1.1 },
    z: 2
  }));
}

function wallLine(idx) {
  return {
    type: 'line',
    xAxisIndex: idx,
    yAxisIndex: idx,
    data: wall,
    showSymbol: false,
    silent: true,
    lineStyle: { color: '#000', width: 2 },
    z: 5
  };
}

function xAxis(idx) {
  return {
    type: 'value',
    gridIndex: idx,
    min: -2.9,
    max: 2.23,
    splitLine: { show: false },
    axisLine: { show: false, onZero: false },
    axisTick: { show: true, customValues: xTicks, length: 4, lineStyle: { color: '#888' } },
    axisLabel: {
      customValues: xTicks, formatter: minus, margin: 8,
      color: '#222', fontSize: 14.5, fontFamily: 'DejaVu Sans'
    }
  };
}

function yAxis(idx, labels) {
  return {
    type: 'value',
    gridIndex: idx,
    min: -2.5,
    max: 2.5,
    splitLine: { show: false },
    axisLine: { show: false, onZero: false },
    axisTick: { show: true, customValues: yTicks, length: 4, lineStyle: { color: '#888' } },
    axisLabel: {
      show: labels, customValues: yTicks, formatter: minus, margin: 9,
      color: '#222', fontSize: 14.5, fontFamily: 'DejaVu Sans'
    }
  };
}

function richFor(size) {
  return {
    i: { fontStyle: 'italic', fontSize: size, fontFamily: 'DejaVu Sans', fill: '#222' },
    n: { fontSize: size, fontFamily: 'DejaVu Sans', fill: '#222' }
  };
}

function textAt(x, y, text, size, rotation) {
  return {
    type: 'text', x: x, y: y, rotation: rotation || 0,
    style: {
      text: text, rich: richFor(size), align: 'center', verticalAlign: 'middle',
      fontSize: size, fontFamily: 'DejaVu Sans', fill: '#222'
    }
  };
}

const chart = echarts.init(document.getElementById('main'));
chart.setOption({
  animation: false,
  backgroundColor: '#fff',
  grid: [
    { left: 48, top: 2, width: 342, height: 345, show: true, borderColor: '#a8a8a8', borderWidth: 1.5 },
    { left: 400, top: 2, width: 342, height: 345, show: true, borderColor: '#a8a8a8', borderWidth: 1.5 }
  ],
  xAxis: [xAxis(0), xAxis(1)],
  yAxis: [yAxis(0, true), yAxis(1, false)],
  series: [].concat(
    trajectory(loopsA, 0, 0.35), trajectory(spiralsA, 0, 0.38), [wallLine(0)],
    trajectory(loopsB, 1, 0.35), trajectory(spiralsB, 1, 0.38), [wallLine(1)]
  ),
  graphic: [
    textAt(219, 378, '{i|x}{n|(}{i|τ}{n|)}', 16),
    textAt(571, 378, '{i|x}{n|(}{i|τ}{n|)}', 16),
    textAt(12, 170, '{i|dx}{n|(}{i|τ}{n|)/}{i|dτ}', 18, Math.PI / 2),
    { type: 'text', x: 219, y: 406, style: { text: 'a)', align: 'center', verticalAlign: 'middle', fontSize: 18, fontFamily: 'DejaVu Sans', fill: '#222' } },
    { type: 'text', x: 571, y: 406, style: { text: 'b)', align: 'center', verticalAlign: 'middle', fontSize: 18, fontFamily: 'DejaVu Sans', fill: '#222' } }
  ]
});
</script>
</body>
</html>
